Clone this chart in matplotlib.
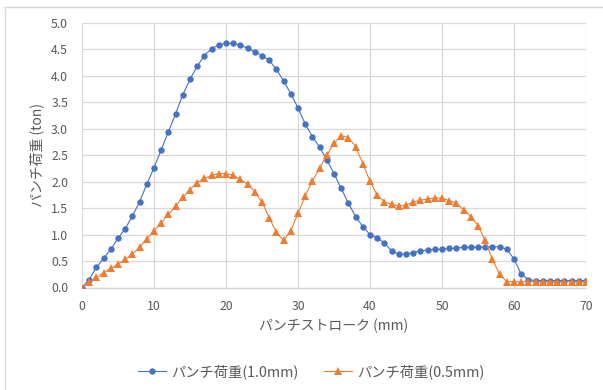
import matplotlib
matplotlib.use("Agg")
import matplotlib.pyplot as plt
from matplotlib.lines import Line2D

plt.rcParams["font.family"] = ["Noto Sans CJK JP", "DejaVu Sans"]

# --- data (stroke in mm, load in ton) ---
stroke_mm = list(range(0, 71))

load_10mm = [
    0.00, 0.15, 0.38, 0.55, 0.72, 0.93, 1.11, 1.35, 1.62, 1.95,
    2.26, 2.60, 2.94, 3.28, 3.64, 3.93, 4.18, 4.38, 4.51, 4.58,
    4.61, 4.61, 4.57, 4.52, 4.45, 4.38, 4.29, 4.12, 3.90, 3.66,
    3.39, 3.09, 2.85, 2.65, 2.41, 2.15, 1.87, 1.59, 1.34, 1.15,
    1.00, 0.94, 0.84, 0.69, 0.63, 0.63, 0.66, 0.69, 0.71, 0.72,
    0.72, 0.74, 0.74, 0.76, 0.76, 0.76, 0.76, 0.77, 0.77, 0.72,
    0.54, 0.25, 0.15, 0.13, 0.13, 0.13, 0.13, 0.13, 0.13, 0.13,
    0.13,
]

load_05mm = [
    0.00, 0.11, 0.19, 0.28, 0.36, 0.44, 0.53, 0.63, 0.76, 0.92,
    1.07, 1.22, 1.38, 1.54, 1.70, 1.85, 1.98, 2.06, 2.12, 2.15,
    2.15, 2.12, 2.04, 1.95, 1.81, 1.61, 1.32, 1.04, 0.89, 1.07,
    1.40, 1.73, 2.01, 2.25, 2.50, 2.72, 2.87, 2.83, 2.66, 2.34,
    2.01, 1.74, 1.62, 1.57, 1.54, 1.56, 1.61, 1.65, 1.67, 1.69,
    1.69, 1.64, 1.59, 1.47, 1.34, 1.17, 0.89, 0.53, 0.25, 0.11,
    0.11, 0.11, 0.11, 0.11, 0.11, 0.11, 0.11, 0.11, 0.11, 0.11,
    0.11,
]

series_labels = ["パンチ荷重(1.0mm)", "パンチ荷重(0.5mm)"]
x_label = "パンチストローク (mm)"
y_label = "パンチ荷重 (ton)"

BLUE = "#4472C4"
ORANGE = "#ED7D31"
GRID = "#d9d9d9"
TEXT = "#595959"

W, H = 603, 390
fig = plt.figure(figsize=(W / 100, H / 100), dpi=100)

# plot area in pixels: left 82, right 586, top 22.7, bottom 287.5
ax = fig.add_axes([82 / W, (H - 287.5) / H, (586 - 82) / W, (287.5 - 22.7) / H])

ax.plot(stroke_mm, load_10mm, color=BLUE, linewidth=0.8, marker="o",
        markersize=4.6, markeredgewidth=0, zorder=3)
ax.plot(stroke_mm, load_05mm, color=ORANGE, linewidth=0.8, marker="^",
        markersize=6, markeredgewidth=0, zorder=4)

ax.set_xlim(0, 70)
ax.set_ylim(0, 5.0)
ax.set_xticks(range(0, 71, 10))
ax.set_yticks([i * 0.5 for i in range(11)])
ax.set_yticklabels([f"{i * 0.5:.1f}" for i in range(11)])

ax.grid(True, color=GRID, linewidth=0.9)
ax.set_axisbelow(True)
for side in ["top", "right", "left"]:
    ax.spines[side].set_visible(False)
ax.spines["bottom"].set_color(GRID)
ax.spines["bottom"].set_linewidth(1.0)

ax.tick_params(axis="both", length=0, labelsize=8.8, labelcolor=TEXT)
ax.tick_params(axis="x", pad=9)
ax.tick_params(axis="y", pad=10)

fig.text(334 / W, 1 - 326 / H, x_label, ha="center", va="center",
         fontsize=10, color=TEXT)
fig.text(37 / W, 1 - 155 / H, y_label, ha="center", va="center",
         rotation=90, fontsize=10, color=TEXT)

handles = [
    Line2D([], [], color=BLUE, linewidth=0.8, marker="o", markersize=4.6, markeredgewidth=0),
    Line2D([], [], color=ORANGE, linewidth=0.8, marker="^", markersize=6, markeredgewidth=0),
]
fig.legend(handles, series_labels, loc="center", bbox_to_anchor=(311 / W, 1 - 371.5 / H),
           ncol=2, frameon=False, fontsize=10.3, labelcolor=TEXT,
           handlelength=2.0, handletextpad=0.3, columnspacing=1.8)

# chart-area border (top and left edges visible in the reference)
fig.add_artist(Line2D([5 / W, 1], [1 - 6.5 / H, 1 - 6.5 / H], color=GRID, linewidth=1.0))
fig.add_artist(Line2D([5 / W, 5 / W], [1 - 6.5 / H, 1 - 389 / H], color=GRID, linewidth=1.0))

fig.savefig("out.png", dpi=100)
